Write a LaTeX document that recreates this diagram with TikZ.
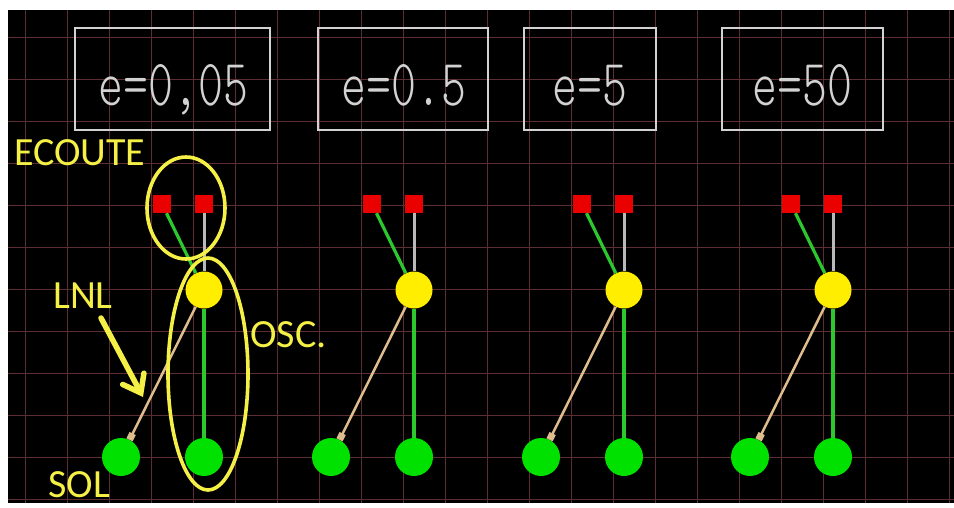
\documentclass[tikz,border=0pt]{standalone}
\usepackage{fontspec}
\usetikzlibrary{arrows.meta,shapes.geometric}
\newfontfamily\labfont{Carlito}
\IfFontExistsTF{lmmonolt10-regular.otf}{\newfontfamily\cadfont{lmmonolt10-regular.otf}}{\newfontfamily\cadfont{Latin Modern Mono}}
\definecolor{gridc}{RGB}{92,46,50}
\definecolor{ylab}{RGB}{245,240,70}
\definecolor{ydotc}{RGB}{255,238,0}
\definecolor{gdotc}{RGB}{0,225,0}
\definecolor{glinec}{RGB}{45,200,45}
\definecolor{redc}{RGB}{235,0,0}
\definecolor{greyc}{RGB}{185,185,185}
\definecolor{boxc}{RGB}{210,210,210}
\definecolor{tanc}{RGB}{222,188,140}
\tikzset{
  ebox/.style={draw=boxc, line width=1.6pt, rectangle, inner sep=0pt},
  etext/.style={text=boxc, font=\cadfont\fontsize{66}{66}\selectfont, inner sep=0pt, anchor=base},
  redsq/.style={rectangle, fill=redc, minimum size=18pt, inner sep=0pt},
  ydot/.style={circle, fill=ydotc, minimum size=37pt, inner sep=0pt},
  gdot/.style={circle, fill=gdotc, minimum size=38pt, inner sep=0pt},
  gline/.style={draw=glinec, line width=3.2pt},
  greyline/.style={draw=greyc, line width=3pt},
  tanline/.style={draw=tanc, line width=2.5pt, -{Square[length=7pt,width=7pt]}},
  ring/.style={draw=ylab, line width=3.6pt, ellipse, inner sep=0pt},
  lab/.style={text=ylab, font=\labfont\fontsize{40}{40}\selectfont, inner sep=0pt, anchor=base west},
}
\begin{document}
\begin{tikzpicture}[x=1pt,y=-1pt]
\useasboundingbox (0,0) rectangle (954,507);
\fill[white] (0,0) rectangle (954,507);
\fill[black] (8,10) rectangle (954,503);
\foreach \i in {0,...,22} \draw[gridc, line width=1pt] ({25+42*\i},10) -- ({25+42*\i},503);
\foreach \j in {0,...,11} \draw[gridc, line width=1pt] (8,{37+42*\j}) -- (954,{37+42*\j});
% value boxes
\node[ebox, minimum width=195pt, minimum height=102pt] (b1) at (172.5,79) {};
\node[ebox, minimum width=170pt, minimum height=102pt] (b2) at (403,79) {};
\node[ebox, minimum width=132pt, minimum height=102pt] (b3) at (590,79) {};
\node[ebox, minimum width=161pt, minimum height=102pt] (b4) at (802.5,79) {};
\node[etext] (t1) at (173.5,105) {\scalebox{0.72}[1]{e=0,05}};
\node[etext] (t2) at (404,105) {\scalebox{0.72}[1]{e=0.5}};
\node[etext] (t3) at (590,105) {\scalebox{0.72}[1]{e=5}};
\node[etext] (t4) at (802.5,105) {\scalebox{0.72}[1]{e=50}};
% columns
\foreach \c [count=\k] in {204,414,624,833} {
  \node[redsq] (ra\k) at (\c-42,204) {};
  \node[redsq] (rb\k) at (\c,204) {};
  \node[ydot] (y\k) at (\c,290) {};
  \node[gdot] (gl\k) at (\c-83,457) {};
  \node[gdot] (gr\k) at (\c,457) {};
  \draw[gline] (ra\k) -- (y\k);
  \draw[greyline] (rb\k) -- (y\k);
  \draw[gline] (y\k) -- (gr\k);
  \draw[tanline] (y\k) -- (gl\k);
}
% annotations
\node[ring, minimum width=78pt, minimum height=102pt] (ecoute) at (186,208) {};
\node[ring, minimum width=80pt, minimum height=232pt] (osc) at (208,374) {};
\node[lab] (ecouteL) at (14,165) {ECOUTE};
\node[lab] (lnlL) at (53,308) {LNL};
\node[lab] (oscL) at (250,347) {OSC.};
\node[lab] (solL) at (48,497) {SOL};
\coordinate (arrA) at (101,318);
\coordinate (arrB) at (143,397);
\draw[draw=ylab, line width=5.5pt, line cap=round, line join=round, -{Straight Barb[length=16pt,width=24pt,line cap=round]}] (arrA) -- (arrB);
\end{tikzpicture}
\end{document}
